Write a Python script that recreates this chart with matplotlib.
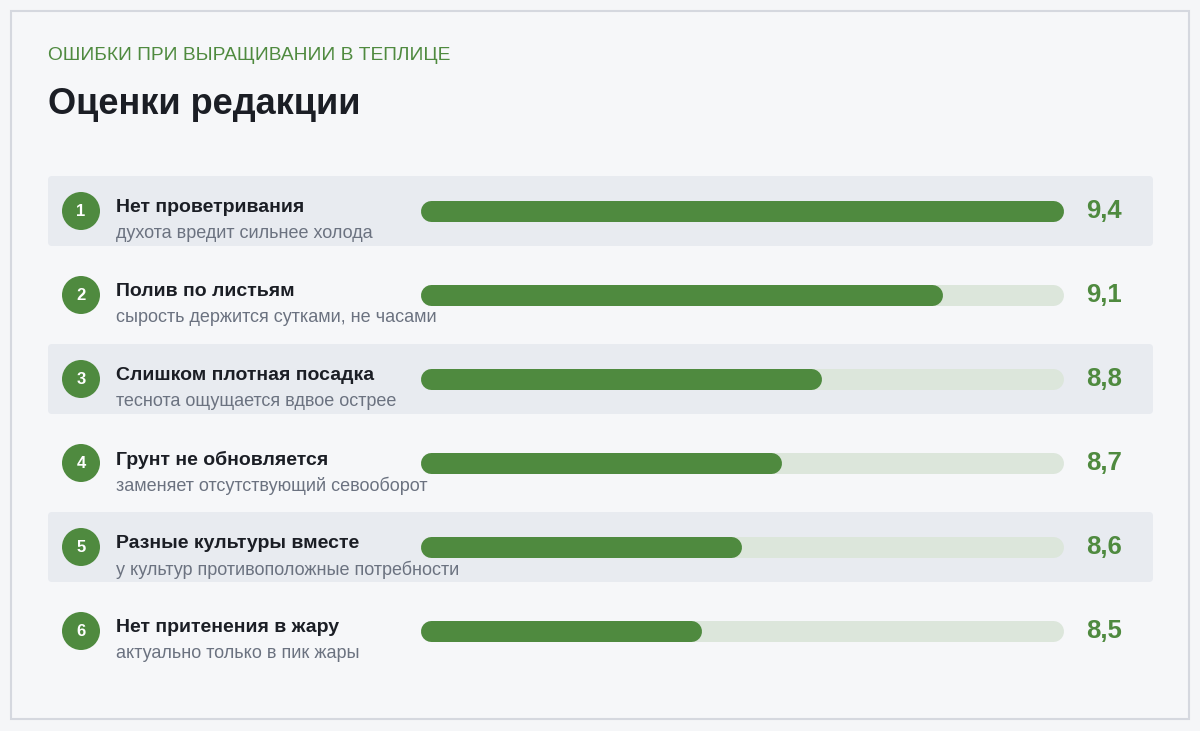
import matplotlib
matplotlib.use("Agg")
import matplotlib.pyplot as plt
from matplotlib.patches import FancyBboxPatch, Circle, Rectangle

# data
kicker = "ОШИБКИ ПРИ ВЫРАЩИВАНИИ В ТЕПЛИЦЕ"
heading = "Оценки редакции"
labels = [
    "Нет проветривания",
    "Полив по листьям",
    "Слишком плотная посадка",
    "Грунт не обновляется",
    "Разные культуры вместе",
    "Нет притенения в жару",
]
notes = [
    "духота вредит сильнее холода",
    "сырость держится сутками, не часами",
    "теснота ощущается вдвое острее",
    "заменяет отсутствующий севооборот",
    "у культур противоположные потребности",
    "актуально только в пик жары",
]
scores = [9.4, 9.1, 8.8, 8.7, 8.6, 8.5]
score_min, score_max = 7.8, 9.4

GREEN = "#4f8a3f"
TRACK = "#dce6db"
SHADE = "#e8ebf0"
BG = "#f5f6f8"
BORDER = "#d5d8df"
DARK = "#1b1e25"
GREY = "#6b7280"

W, H = 1200, 731
plt.rcParams["font.family"] = ["Liberation Sans", "DejaVu Sans"]

fig = plt.figure(figsize=(W / 100, H / 100), dpi=100)
fig.patch.set_facecolor(BG)

# background axes in pixel coordinates
ax = fig.add_axes([0, 0, 1, 1])
ax.set_xlim(0, W)
ax.set_ylim(H, 0)
ax.axis("off")

ax.add_patch(Rectangle((11, 11), 1178, 708, facecolor="#f6f7f9",
                       edgecolor=BORDER, linewidth=1.5))

ax.text(48, 55, kicker, color=GREEN, fontsize=13.8, va="center", ha="left")
ax.text(48, 104, heading, color=DARK, fontsize=26, fontweight="bold",
        va="center", ha="left")

row0, step = 211, 84
for i, (lab, note) in enumerate(zip(labels, notes)):
    y = row0 + step * i
    if i % 2 == 0:
        ax.add_patch(FancyBboxPatch((48, y - 35), 1105, 70,
                                    boxstyle="round,pad=0,rounding_size=4",
                                    facecolor=SHADE, edgecolor="none"))
    ax.add_patch(Circle((81, y), 19, facecolor=GREEN, edgecolor="none"))
    ax.text(81, y + 1, str(i + 1), color="white", fontsize=12,
            fontweight="bold", ha="center", va="center")
    ax.text(116, y - 3, lab, color=DARK, fontsize=14, fontweight="bold",
            ha="left", va="center")
    ax.text(116, y + 23, note, color=GREY, fontsize=13, ha="left",
            va="center")

# bar axes: scores on x, row index on y (same vertical layout as above)
bx0, bx1 = 420, 1063
bar_h = 21
bax = fig.add_axes([bx0 / W, 0, (bx1 - bx0) / W, 1])
bax.set_xlim(score_min, score_max)
bax.set_ylim((H - row0) / step, -row0 / step)
bax.axis("off")

# round caps stick out by half the bar height; pull the line ends in by that much
cap = (bar_h / 2) * (score_max - score_min) / (bx1 - bx0)
lw = bar_h * 0.72
for i, v in enumerate(scores):
    bax.plot([score_min + cap, score_max - cap], [i, i], color=TRACK, lw=lw,
             solid_capstyle="round", clip_on=False)
    bax.plot([score_min + cap, v - cap], [i, i], color=GREEN, lw=lw,
             solid_capstyle="round", clip_on=False)
    bax.annotate(f"{v:.1f}".replace(".", ","), xy=(score_max, i),
                 xytext=(17, 0), textcoords="offset points",
                 color=GREEN, fontsize=18.5, fontweight="bold",
                 ha="left", va="center", annotation_clip=False)

fig.savefig("out.png", dpi=100, facecolor=BG)
